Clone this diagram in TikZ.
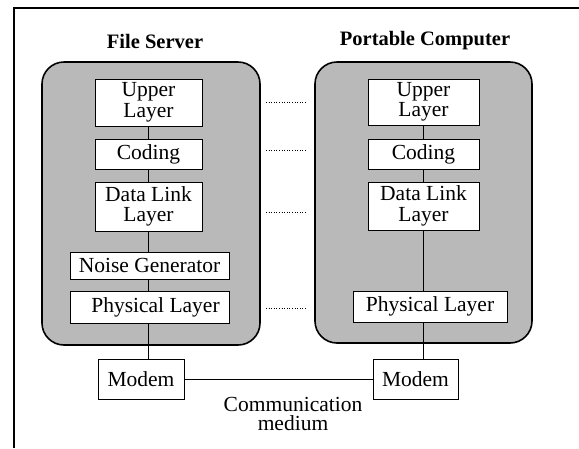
\documentclass[tikz,border=0pt]{standalone}
\usepackage{fontspec}
\setmainfont{Liberation Serif}
\begin{document}
\begin{tikzpicture}[x=1pt,y=-1pt,
  stack/.style={draw=black,line width=1.6pt,fill=gray!55,rounded corners=22pt,inner sep=0pt},
  layerbox/.style={draw=black,line width=0.8pt,fill=white,inner sep=0pt,align=center,
    font=\fontsize{21.5}{20.5}\selectfont},
  title/.style={font=\fontsize{20.5}{20}\selectfont\bfseries,inner sep=0pt},
  plain/.style={font=\fontsize{21.5}{19.5}\selectfont,inner sep=0pt,align=center},
  link/.style={line width=0.7pt},
  peer/.style={line width=0.6pt,dotted},
  frame/.style={line width=1.3pt}]
\useasboundingbox (0,0) rectangle (579,448);
% frame
\coordinate (fbl) at (14,448);
\coordinate (ftl) at (14,8);
\coordinate (ftr) at (579,8);
\draw[frame] (fbl) -- (ftl) -- (ftr);
% titles
\node[title] (t1) at (155,41) {File Server};
\node[title] (t2) at (425,41) {Portable Computer};
% stacks
\node[stack,minimum width=218pt,minimum height=283pt] (lbox) at (151,203.5) {};
\node[stack,minimum width=217pt,minimum height=281pt] (rbox) at (423.5,202.5) {};
% left layers
\node[layerbox,minimum width=107pt,minimum height=47pt] (u1) at (148.5,102.5) {Upper\\Layer};
\node[layerbox,minimum width=107pt,minimum height=30pt] (c1) at (148.5,154) {Coding};
\node[layerbox,minimum width=107pt,minimum height=49pt] (d1) at (148.5,206.5) {Data Link\\Layer};
\node[layerbox,minimum width=159pt,minimum height=27pt] (n1) at (149.5,265.5) {Noise Generator};
\node[layerbox,minimum width=159pt,minimum height=32pt] (p1) at (149.5,307) {\hspace*{12pt}Physical Layer};
\node[layerbox,minimum width=86pt,minimum height=40pt] (m1) at (141,379.5) {Modem};
% right layers
\node[layerbox,minimum width=111pt,minimum height=46pt] (u2) at (423.5,102) {Upper\\Layer};
\node[layerbox,minimum width=111pt,minimum height=30pt] (c2) at (423.5,154) {Coding};
\node[layerbox,minimum width=111pt,minimum height=48pt] (d2) at (423.5,206) {Data Link\\Layer};
\node[layerbox,minimum width=154pt,minimum height=31pt] (p2) at (430,306.5) {Physical Layer};
\node[layerbox,minimum width=85pt,minimum height=40pt] (m2) at (415.5,379.5) {Modem};
% connectors
\draw[link] (u1.south) -- (c1.north);
\draw[link] (c1.south) -- (d1.north);
\draw[link] (d1.south) -- (n1.north -| d1.south);
\draw[link] (n1.south -| d1.south) -- (p1.north -| d1.south);
\draw[link] (p1.south -| d1.south) -- (m1.north -| d1.south);
\draw[link] (u2.south) -- (c2.north);
\draw[link] (c2.south) -- (d2.north);
\draw[link] (d2.south) -- (p2.north -| d2.south);
\draw[link] (p2.south -| d2.south) -- (m2.north -| d2.south);
\draw[link] (m1.east) -- (m2.west);
% peer dotted lines
\coordinate (a1) at (266,102); \coordinate (b1) at (306,102);
\coordinate (a2) at (266,150); \coordinate (b2) at (306,150);
\coordinate (a3) at (266,212); \coordinate (b3) at (306,212);
\coordinate (a4) at (266,308); \coordinate (b4) at (306,308);
\draw[peer] (a1) -- (b1);
\draw[peer] (a2) -- (b2);
\draw[peer] (a3) -- (b3);
\draw[peer] (a4) -- (b4);
% medium label
\node[plain] (med) at (293,414) {Communication\\medium};
\end{tikzpicture}
\end{document}
